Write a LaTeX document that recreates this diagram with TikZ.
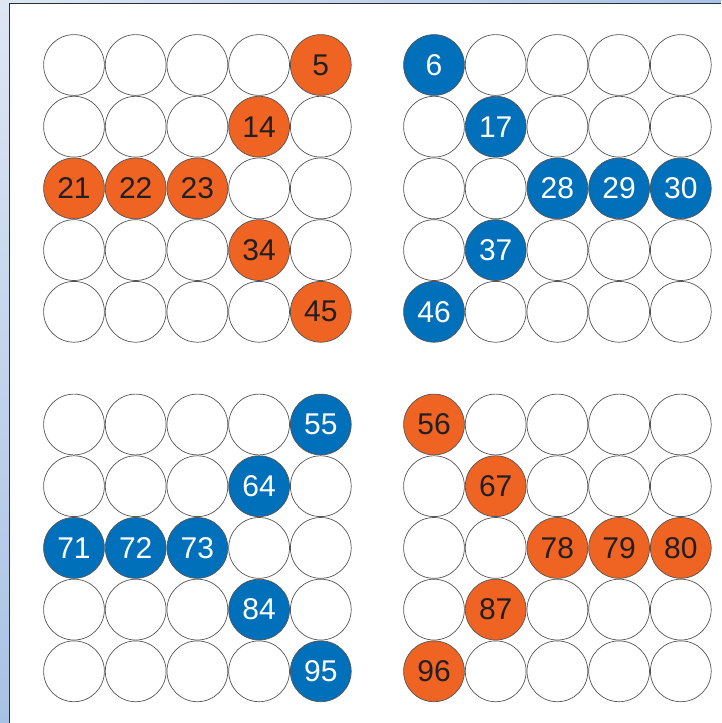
\documentclass[tikz,border=0pt]{standalone}
\usepackage{fontspec}
\setmainfont{Liberation Sans}
\definecolor{orng}{RGB}{239,99,35}
\definecolor{blu}{RGB}{0,112,186}
\definecolor{ink}{RGB}{35,31,32}
\definecolor{cellline}{RGB}{85,85,85}
\definecolor{bandA}{RGB}{222,230,243}
\definecolor{bandB}{RGB}{168,194,229}
\definecolor{framecol}{RGB}{45,45,55}
\begin{document}
\begin{tikzpicture}[x=1pt,y=-1pt,
  cell/.style={circle, draw=cellline, line width=0.7pt, minimum size=60.8pt, inner sep=0pt,
    font=\fontsize{30}{30}\selectfont},
  org/.style={fill=orng, text=ink, execute at begin node=\n},
  bl/.style={fill=blu, text=white, execute at begin node=\n},
  n5/.style=org, n14/.style=org, n21/.style=org, n22/.style=org, n23/.style=org,
  n34/.style=org, n45/.style=org,
  n56/.style=org, n67/.style=org, n78/.style=org, n79/.style=org, n80/.style=org,
  n87/.style=org, n96/.style=org,
  n6/.style=bl, n17/.style=bl, n28/.style=bl, n29/.style=bl, n30/.style=bl,
  n37/.style=bl, n46/.style=bl,
  n55/.style=bl, n64/.style=bl, n71/.style=bl, n72/.style=bl, n73/.style=bl,
  n84/.style=bl, n95/.style=bl]
\useasboundingbox (0,0) rectangle (721,723);
\shade[top color=bandA, bottom color=bandB] (0,0) rectangle (9,723);
\shade[left color=bandA, right color=bandB] (0,0) rectangle (721,3.3);
\fill[white] (9,3.3) rectangle (721,723);
\draw[line width=1pt, framecol] (9,723) -- (9,3.3) -- (721,3.3);
\foreach \r in {1,...,10}{
  \foreach \c in {1,...,10}{
    \pgfmathtruncatemacro\n{(\r-1)*10+\c}
    \pgfmathsetmacro\x{74+360*(\c>5)+61.7*(\c-1-5*(\c>5))}
    \pgfmathsetmacro\y{65+359.5*(\r>5)+61.7*(\r-1-5*(\r>5))}
    \node[cell, n\n/.try] (c\n) at (\x,\y) {};
  }
}
\end{tikzpicture}
\end{document}
